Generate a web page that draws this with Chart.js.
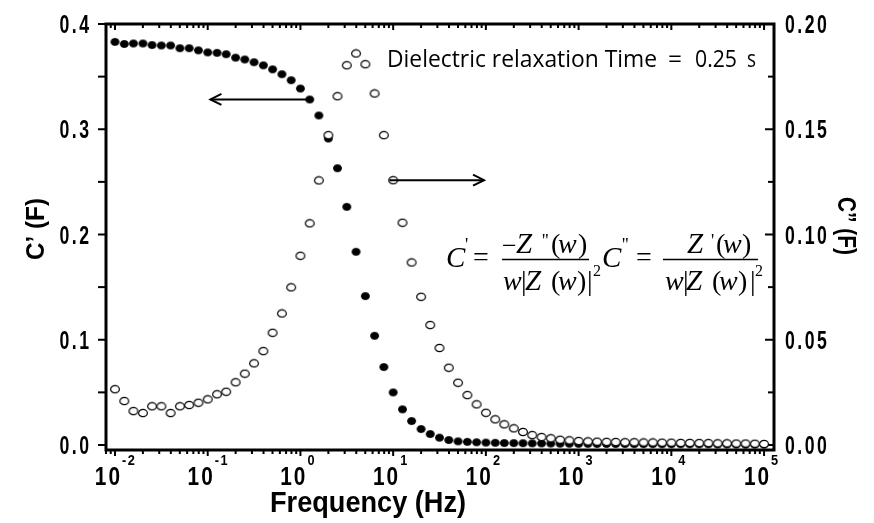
<!DOCTYPE html>
<html lang="en">
<head>
<meta charset="UTF-8">
<title>C' and C'' versus frequency</title>
<script src="https://cdn.jsdelivr.net/npm/chart.js"></script>
<style>
  body { margin: 0; background: #fff; }
  #wrap { width: 874px; height: 523px; }
</style>
</head>
<body>
<div id="wrap"><canvas id="chart" width="874" height="523"></canvas></div>
<script>
// measured frequencies (Hz), 10 points per decade
const frequency = [
  0.01, 0.0126, 0.0158, 0.02, 0.0251, 0.0316, 0.0398, 0.0501, 0.0631, 0.0794,
  0.1, 0.126, 0.158, 0.2, 0.251, 0.316, 0.398, 0.501, 0.631, 0.794,
  1, 1.26, 1.58, 2, 2.51, 3.16, 3.98, 5.01, 6.31, 7.94,
  10, 12.6, 15.8, 20, 25.1, 31.6, 39.8, 50.1, 63.1, 79.4,
  100, 126, 158, 200, 251, 316, 398, 501, 631, 794,
  1000, 1260, 1580, 2000, 2510, 3160, 3980, 5010, 6310, 7940,
  10000, 12600, 15800, 20000, 25100, 31600, 39800, 50100, 63100, 79400,
  100000
];
// C' (F), filled circles, left axis
const cReal = [
  0.383, 0.381, 0.3815, 0.3815, 0.380, 0.3796, 0.3796, 0.377, 0.377, 0.375,
  0.373, 0.3726, 0.3713, 0.368, 0.3663, 0.3637, 0.3607, 0.3569, 0.3523, 0.3466,
  0.3387, 0.3283, 0.3131, 0.2912, 0.2630, 0.2263, 0.1836, 0.1415, 0.1038, 0.0741,
  0.050, 0.0339, 0.0228, 0.0152, 0.0104, 0.0070, 0.0047, 0.0035, 0.0030, 0.0026,
  0.0023, 0.0021, 0.0019, 0.0018, 0.0017, 0.0016, 0.0015, 0.0014, 0.0013, 0.0012,
  0.0011, 0.0011, 0.0010, 0.0010, 0.0009, 0.0009, 0.0008, 0.0008, 0.0008, 0.0007,
  0.0007, 0.0007, 0.0006, 0.0006, 0.0006, 0.0005, 0.0005, 0.0005, 0.0004, 0.0004,
  0.0004
];
// C'' (F), open circles, right axis
const cImag = [
  0.0265, 0.0209, 0.0161, 0.0152, 0.0184, 0.0184, 0.0152, 0.0184, 0.0190, 0.0201,
  0.0217, 0.0241, 0.0253, 0.0298, 0.0339, 0.0388, 0.0446, 0.0533, 0.0625, 0.0749,
  0.0899, 0.1053, 0.1257, 0.1472, 0.1657, 0.1804, 0.1860, 0.1809, 0.1670, 0.1472,
  0.1258, 0.1056, 0.0867, 0.0704, 0.0570, 0.0461, 0.0367, 0.0296, 0.0237, 0.0193,
  0.0153, 0.0122, 0.0098, 0.0079, 0.0062, 0.0047, 0.0038, 0.0032, 0.0025, 0.0022,
  0.0019, 0.0017, 0.0016, 0.0015, 0.0014, 0.0013, 0.0013, 0.0012, 0.0012, 0.0011,
  0.0011, 0.0010, 0.0010, 0.0009, 0.0009, 0.0008, 0.0008, 0.0007, 0.0007, 0.0006,
  0.0005
];
const leftTicks = [0, 0.1, 0.2, 0.3, 0.4];
const rightTicks = [0, 0.05, 0.1, 0.15, 0.2];
const xDecades = [-2, -1, 0, 1, 2, 3, 4, 5];

// point markers (slightly oval, like the original)
function marker(w, h, fill, lw) {
  const c = document.createElement('canvas');
  c.width = w + 2; c.height = h + 2;
  const g = c.getContext('2d');
  g.beginPath();
  g.ellipse(c.width / 2, c.height / 2, (w - lw) / 2, (h - lw) / 2, 0, 0, Math.PI * 2);
  g.fillStyle = fill;
  g.fill();
  g.lineWidth = lw || 1;
  g.strokeStyle = '#000';
  g.stroke();
  return c;
}
const solidDot = marker(9, 8, '#000', 1);
const openDot = marker(10, 8.5, '#fff', 1.2);

// draw text char by char with horizontal squeeze and extra spacing
function spaced(ctx, text, x, y, align, sx, gap) {
  const chars = [...text];
  const w = chars.map(ch => ctx.measureText(ch).width * sx);
  const total = w.reduce((s, v) => s + v, 0) + gap * (chars.length - 1);
  let cx = align === 'right' ? x - total : align === 'center' ? x - total / 2 : x;
  ctx.textAlign = 'left';
  chars.forEach((ch, i) => {
    ctx.save();
    ctx.translate(cx, y);
    ctx.scale(sx, 1);
    ctx.fillText(ch, 0, 0);
    ctx.restore();
    cx += w[i] + gap;
  });
}

// draw text stretched to a given width
function fit(ctx, text, x, y, width) {
  const m = ctx.measureText(text).width;
  ctx.save();
  ctx.translate(x, y);
  ctx.scale(width / m, 1);
  ctx.textAlign = 'left';
  ctx.fillText(text, 0, 0);
  ctx.restore();
}

function line(ctx, x1, y1, x2, y2) {
  ctx.beginPath();
  ctx.moveTo(x1, y1);
  ctx.lineTo(x2, y2);
  ctx.stroke();
}

const framePlugin = {
  id: 'frame',
  beforeDatasetsDraw(chart) {
    const { ctx, chartArea: a, scales: { x, y, y2 } } = chart;
    ctx.save();
    ctx.strokeStyle = '#000';
    ctx.lineWidth = 3;
    ctx.strokeRect(a.left, a.top, a.right - a.left, a.bottom - a.top);
    ctx.lineWidth = 2;
    // log ticks, bottom outward and top inward
    for (let d = -3; d <= 5; d++) {
      for (let m = 1; m <= 9; m++) {
        const v = m * Math.pow(10, d);
        if (v < x.min || v > x.max) continue;
        const px = x.getPixelForValue(v);
        const len = m === 1 ? 6 : 4;
        line(ctx, px, a.bottom, px, a.bottom + len);
        line(ctx, px, a.top, px, a.top + len);
      }
    }
    // left ticks outward, right ticks inward
    leftTicks.forEach((v, i) => {
      const py = y.getPixelForValue(v);
      line(ctx, a.left - 8, py, a.left, py);
      if (i < leftTicks.length - 1) {
        const pm = y.getPixelForValue((v + leftTicks[i + 1]) / 2);
        line(ctx, a.left - 8, pm, a.left, pm);
      }
    });
    rightTicks.forEach((v, i) => {
      const py = y2.getPixelForValue(v);
      line(ctx, a.right - 9, py, a.right, py);
      if (i < rightTicks.length - 1) {
        const pm = y2.getPixelForValue((v + rightTicks[i + 1]) / 2);
        line(ctx, a.right - 6, pm, a.right, pm);
      }
    });
    ctx.restore();
  }
};

const textPlugin = {
  id: 'texts',
  afterDraw(chart) {
    const { ctx, chartArea: a, scales: { x, y, y2 } } = chart;
    ctx.save();
    ctx.fillStyle = '#000';
    ctx.strokeStyle = '#000';
    ctx.textBaseline = 'alphabetic';

    // tick labels
    ctx.font = 'bold 26px "Liberation Sans", Arial, sans-serif';
    leftTicks.forEach(v => {
      spaced(ctx, v.toFixed(1), 89, y.getPixelForValue(v) + 9, 'right', 0.68, 2.5);
    });
    rightTicks.forEach(v => {
      spaced(ctx, v.toFixed(2), 785, y2.getPixelForValue(v) + 9, 'left', 0.68, 2.5);
    });
    xDecades.forEach(d => {
      const px = x.getPixelForValue(Math.pow(10, d));
      ctx.font = 'bold 26px "Liberation Sans", Arial, sans-serif';
      spaced(ctx, '10', px + 5, 485, 'right', 0.8, 2);
      ctx.font = 'bold 15px "Liberation Sans", Arial, sans-serif';
      spaced(ctx, String(d), px + 7, 465, 'left', 0.85, 1.5);
    });

    // axis titles
    ctx.font = 'bold 30px "Liberation Sans", Arial, sans-serif';
    fit(ctx, 'Frequency (Hz)', 270, 512, 196);
    ctx.font = 'bold 25px "Liberation Sans", Arial, sans-serif';
    ctx.save();
    ctx.translate(44, 260);
    ctx.rotate(-Math.PI / 2);
    fit(ctx, 'C\u2019 (F)', 0, 0, 62);
    ctx.restore();
    ctx.save();
    ctx.translate(838, 197);
    ctx.rotate(Math.PI / 2);
    fit(ctx, 'C\u201D (F)', 0, 0, 58);
    ctx.restore();

    // annotation
    ctx.font = '23px "Open Sans", "Noto Sans", sans-serif';
    fit(ctx, 'Dielectric relaxation Time', 387, 67, 270);
    fit(ctx, '=', 668, 67, 14);
    fit(ctx, '0.25', 695, 67, 42);
    fit(ctx, 's', 747, 67, 9);

    // arrows, anchored on the data scales
    ctx.lineWidth = 2;
    const arrow = (sc, f1, f2, v) => {
      const x1 = x.getPixelForValue(f1), x2 = x.getPixelForValue(f2), py = sc.getPixelForValue(v);
      const dir = Math.sign(x2 - x1);
      line(ctx, x1, py, x2, py);
      ctx.beginPath();
      ctx.moveTo(x2 - dir * 11, py - 5.5);
      ctx.lineTo(x2, py);
      ctx.lineTo(x2 - dir * 11, py + 5.5);
      ctx.stroke();
    };
    arrow(y, 1.26, 0.107, 0.3283);
    arrow(y2, 9.1, 95.5, 0.1258);

    // formula
    const serif = '"Liberation Serif", "Times New Roman", serif';
    const it = s => 'italic ' + s + 'px ' + serif;
    const up = s => s + 'px ' + serif;
    const put = (t, px, py, font) => { ctx.font = font; ctx.textAlign = 'left'; ctx.fillText(t, px, py); };
    ctx.lineWidth = 1.3;
    // C' = -Z''(w) / w|Z(w)|^2
    put('C', 446, 267, it(29));
    put('\'', 465, 251, up(18));
    put('=', 473, 266, up(28));
    line(ctx, 502, 259.5, 589, 259.5);
    put('\u2212', 502, 254, up(26));
    put('Z', 516, 253, it(29));
    put('\'\'', 542, 247, up(18));
    put('(', 551, 253, up(28));
    put('w', 558, 253, it(28));
    put(')', 578, 253, up(28));
    put('w', 503, 290, it(28));
    put('|', 521, 290, up(28));
    put('Z', 525, 290, it(29));
    put('(', 551, 290, up(28));
    put('w', 558, 290, it(28));
    put(')', 577, 290, up(28));
    put('|', 587, 290, up(28));
    put('2', 593, 276, up(16));
    // C'' = Z'(w) / w|Z(w)|^2
    put('C', 602, 267, it(29));
    put('\'\'', 622, 251, up(18));
    put('=', 636, 266, up(28));
    line(ctx, 663, 259.5, 758, 259.5);
    put('Z', 687, 253, it(29));
    put('\'', 711, 247, up(18));
    put('(', 716, 253, up(28));
    put('w', 723, 253, it(28));
    put(')', 742, 253, up(28));
    put('w', 665, 290, it(28));
    put('|', 683, 290, up(28));
    put('Z', 686, 290, it(29));
    put('(', 712, 290, up(28));
    put('w', 719, 290, it(28));
    put(')', 738, 290, up(28));
    put('|', 750, 290, up(28));
    put('2', 755, 276, up(16));
    ctx.restore();
  }
};

const ctx = document.getElementById('chart').getContext('2d');
const chart = new Chart(ctx, {
  type: 'scatter',
  data: {
    datasets: [{
      label: 'C\'\'',
      data: frequency.map((f, i) => ({ x: f, y: cImag[i] })),
      yAxisID: 'y2',
      pointStyle: openDot,
      pointRadius: 5,
      order: 1
    }, {
      label: 'C\'',
      data: frequency.map((f, i) => ({ x: f, y: cReal[i] })),
      yAxisID: 'y',
      pointStyle: solidDot,
      pointRadius: 5,
      order: 2
    }]
  },
  options: {
    responsive: false,
    animation: false,
    events: [],
    layout: { padding: { top: 24, left: 0, right: 0, bottom: 0 } },
    plugins: { legend: { display: false }, tooltip: { enabled: false } },
    scales: {
      x: {
        type: 'logarithmic', position: 'bottom', min: 0.0080, max: 128000,
        grid: { display: false }, border: { display: false }, ticks: { display: false },
        afterFit: s => { s.height = 73; }
      },
      y: {
        position: 'left', min: -0.00475, max: 0.4,
        grid: { display: false }, border: { display: false }, ticks: { display: false },
        afterFit: s => { s.width = 106; }
      },
      y2: {
        position: 'right', min: -0.002375, max: 0.2,
        grid: { display: false }, border: { display: false }, ticks: { display: false },
        afterFit: s => { s.width = 100; }
      }
    }
  },
  plugins: [framePlugin, textPlugin]
});
</script>
</body>
</html>
